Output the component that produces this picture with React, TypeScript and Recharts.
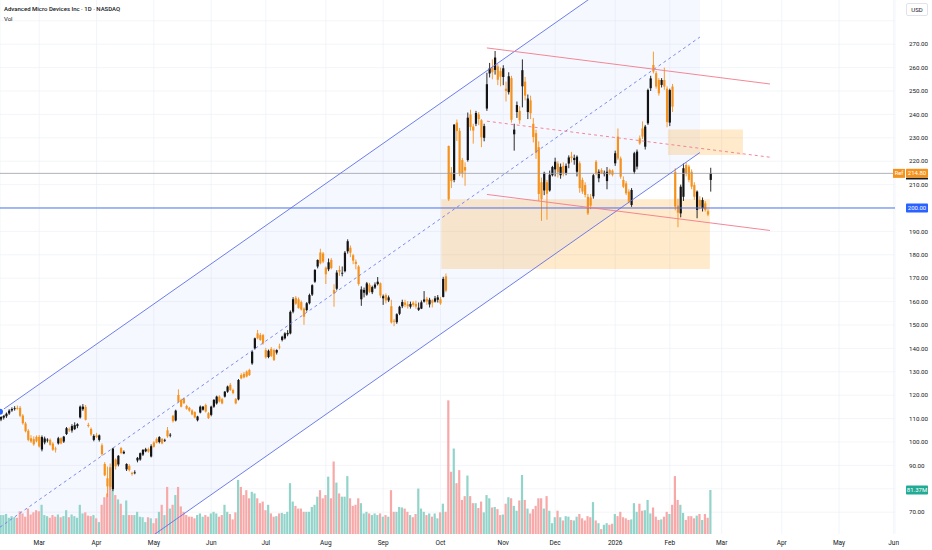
import React from 'react';
import { ComposedChart, Bar, Area, XAxis, YAxis, CartesianGrid, ReferenceLine, ReferenceArea } from 'recharts';

const W = 932;
const H = 550;
const UP = '#131313';
const DOWN = '#f5921e';
const VOL_UP = '#92d4ca';
const VOL_DOWN = '#f6a9a8';
const FONT = 'Roboto, "Liberation Sans", sans-serif';
const TXT = '#131722';

// ---- daily candles [open, high, low, close] ----
const FEB25 = [
  [109.6,111.4,108.9,110.9],[110.4,111.9,109.6,111.3],[111.0,112.6,110.3,112.1],[112.2,114.0,111.6,113.4],
  [113.5,114.8,112.9,114.1],[114.1,115.3,113.4,114.4],[114.5,115.6,113.8,114.2],[114.6,115.4,110.6,111.2],
  [111.3,111.9,107.4,108.0],[107.9,108.6,104.1,104.6],[104.8,105.5,100.3,100.9],[101.6,102.9,99.6,100.2],
  [101.2,102.4,98.4,99.0],[102.2,102.8,99.8,100.3],
];
const MAR25 = [
  [102.2,103.0,97.6,98.1],[96.8,102.8,96.0,102.1],[99.8,102.3,99.0,101.5],[100.8,101.6,99.8,101.0],
  [100.9,101.5,98.4,98.8],[99.3,99.9,96.2,96.7],[97.2,98.0,95.5,96.8],[99.4,102.2,98.9,101.6],
  [101.6,102.0,99.0,99.4],[100.2,102.6,99.6,102.3],[103.4,106.4,103.0,105.9],[105.4,106.2,104.3,105.0],
  [104.9,107.6,104.0,106.8],[105.5,108.4,105.1,107.2],[106.8,108.0,105.9,107.6],[110.5,115.6,110.0,115.1],
  [114.0,116.2,113.3,115.1],[115.0,115.8,109.2,109.5],[107.3,108.2,106.2,106.8],[105.6,106.2,102.6,103.2],
  [100.9,103.3,100.3,102.6],
];
const APR25 = [
  [102.8,103.9,101.7,102.1],[100.9,103.2,100.2,102.8],[98.6,99.4,94.0,94.8],[90.6,91.4,85.4,85.8],
  [84.5,89.5,76.5,81.0],[89.2,90.8,79.5,80.8],[79.8,97.5,79.0,97.2],[92.5,93.0,88.2,89.6],
  [90.4,94.4,89.6,94.1],[97.4,97.9,94.8,95.3],[95.1,96.4,94.8,95.8],[88.3,90.9,87.6,90.6],
  [89.8,90.5,87.4,88.0],[86.8,87.3,85.6,86.3],[86.9,87.9,86.2,87.0],[92.1,93.6,91.3,93.2],
  [92.5,95.5,92.0,95.2],[94.6,97.0,94.0,96.6],[96.0,97.5,95.6,96.9],[97.0,97.6,95.4,95.9],
  [93.8,99.0,93.4,98.2],
];
const MAY25 = [
  [99.8,100.4,97.6,97.9],[101.3,101.9,99.4,99.7],[100.0,102.5,99.4,102.1],[101.3,101.7,99.0,99.4],
  [100.6,101.4,100.0,100.9],[105.0,106.4,101.8,102.4],[102.8,103.8,102.0,103.1],[111.2,111.6,108.3,108.9],
  [109.2,113.8,108.8,113.4],[120.1,122.5,116.8,117.2],[118.0,118.5,114.8,115.1],[118.6,119.0,116.2,116.6],
  [115.4,115.9,113.8,114.2],[114.6,115.0,112.9,113.4],[113.5,114.0,111.4,111.8],[112.8,113.1,110.1,110.5],
  [109.3,111.2,108.8,110.9],[112.6,115.6,112.2,115.1],[113.8,115.4,113.4,115.1],[115.8,116.4,112.6,113.0],
  [112.3,112.8,109.8,110.2],
];
const JUN25 = [
  [111.6,115.5,111.0,115.1],[115.1,118.3,114.6,118.0],[116.5,119.8,116.0,119.4],[119.4,120.0,116.9,117.3],
  [118.3,118.9,116.1,116.5],[119.4,121.8,119.0,121.5],[121.5,124.1,121.0,123.7],[124.4,125.2,121.8,122.2],
  [122.2,122.8,120.4,120.9],[118.3,118.8,116.1,116.5],[118.2,126.9,117.8,126.5],[128.6,129.4,126.8,127.2],
  [129.1,129.9,127.2,127.6],[130.1,130.6,127.6,128.0],[130.8,131.3,128.2,128.6],[133.6,139.0,133.0,138.6],
  [140.0,144.6,139.5,144.3],[146.4,147.9,143.9,144.3],[145.7,146.6,143.2,143.6],[145.7,146.2,141.6,142.2],
];
const JUL25 = [
  [139.3,140.2,135.6,136.2],[136.3,139.5,135.8,139.0],[139.8,140.6,136.3,136.8],[139.3,139.9,134.6,135.0],
  [138.2,139.6,137.4,139.3],[140.8,142.0,139.6,140.4],[143.6,145.4,143.0,145.0],[144.3,146.9,143.8,146.4],
  [146.0,147.8,145.2,146.6],[146.4,156.2,146.0,155.6],[155.7,161.9,155.0,161.0],[161.6,162.4,158.6,159.1],
  [161.0,161.8,157.0,157.2],[159.8,160.5,156.2,156.6],[157.0,157.5,150.1,153.5],[156.4,159.8,155.8,159.3],
  [159.3,163.4,158.8,162.8],[163.0,167.4,162.4,167.0],[168.5,173.9,168.0,173.5],[175.0,178.0,174.2,177.8],
  [181.0,182.6,175.9,176.4],[180.6,181.2,176.4,177.1],
];
const AUG25 = [
  [174.5,175.0,167.5,171.7],[173.8,178.4,173.0,176.8],[177.8,178.6,173.8,174.3],[165.0,167.4,157.8,163.4],
  [165.5,173.4,164.8,172.4],[173.5,175.3,171.0,172.8],[172.0,175.0,170.8,172.3],[173.0,181.6,172.5,180.9],
  [181.5,186.6,180.5,185.8],[183.0,184.0,179.0,180.9],[179.8,180.4,176.0,177.5],[177.0,178.0,173.8,176.1],
  [175.0,175.6,166.8,167.5],[161.0,166.5,158.2,165.2],[163.8,166.0,161.8,165.0],[163.0,168.4,162.5,167.8],
  [167.2,168.0,163.7,164.2],[164.0,166.8,163.2,166.2],[166.0,168.2,165.4,167.3],[167.5,170.5,166.9,168.5],
  [167.8,168.2,161.6,162.6],
];
const SEP25 = [
  [161.4,163.0,158.6,162.3],[162.8,163.5,159.2,160.5],[160.5,162.6,159.8,161.8],[158.0,160.8,150.6,151.1],
  [151.8,152.6,149.5,151.4],[151.2,155.0,150.5,154.6],[154.8,158.2,154.2,157.8],[158.0,160.8,157.2,159.8],
  [159.6,160.8,157.6,158.6],[158.8,160.2,157.0,158.0],[157.8,160.0,157.0,159.0],[159.5,160.2,157.8,158.6],
  [159.0,160.4,157.0,157.9],[156.5,159.6,156.0,157.4],[157.0,160.5,156.8,159.7],[160.0,164.5,159.6,160.9],
  [161.2,162.0,158.6,160.0],[158.8,161.6,157.5,160.8],[160.5,161.0,157.5,159.5],[160.0,162.4,159.6,161.4],
  [160.8,162.8,159.6,161.8],
];
const OCT25 = [
  [161.0,162.0,158.6,159.2],[162.0,170.6,161.8,169.7],[170.8,172.0,164.0,164.7],[226.5,226.7,203.0,203.7],
  [215.2,217.5,208.5,211.5],[212.0,235.9,211.0,235.6],[236.5,237.8,228.6,232.9],[233.0,234.2,213.6,214.9],
  [220.5,221.4,213.0,214.8],[217.5,219.5,209.5,216.0],[220.5,240.8,219.8,238.6],[240.0,242.0,233.0,234.6],
  [234.8,236.0,227.5,233.1],[236.0,241.5,235.0,240.6],[240.0,241.0,235.4,238.0],[237.5,238.0,226.0,230.2],
  [230.0,236.0,228.5,235.0],[242.5,257.8,241.5,252.9],[257.5,262.0,255.8,259.7],[260.0,263.5,255.0,258.0],
  [259.0,267.1,257.0,264.3],[260.5,261.5,252.5,254.8],[258.5,260.0,252.0,256.1],
];
const NOV25 = [
  [256.0,261.0,252.5,259.7],[251.0,254.0,245.5,250.0],[249.5,258.0,248.5,256.3],[255.5,256.5,236.5,237.7],
  [231.5,236.0,224.5,233.5],[241.0,245.5,238.5,244.0],[241.5,243.5,236.0,237.5],[252.0,263.5,243.0,258.9],
  [254.0,256.0,246.0,248.0],[241.0,248.5,238.0,246.8],[246.0,248.0,238.0,240.5],[236.0,238.5,228.0,230.3],
  [232.0,233.5,221.0,223.6],[226.0,228.5,203.0,206.0],[211.0,213.0,194.5,203.8],[207.5,215.5,205.5,215.0],
  [211.0,212.0,195.0,206.1],[207.5,216.0,207.0,214.2],[214.0,218.0,213.5,217.5],
];
const DEC25 = [
  [216.5,221.5,213.5,219.8],[219.0,220.0,213.0,215.2],[214.0,219.0,212.5,217.6],[218.0,219.5,213.5,215.0],
  [215.0,219.0,214.0,218.0],[219.0,222.5,217.0,221.6],[222.0,224.0,219.5,221.4],[220.5,222.8,218.5,221.4],
  [215.5,222.5,213.5,221.9],[219.1,220.0,206.5,208.5],[212.0,213.0,206.0,207.0],[209.8,211.0,204.5,205.6],
  [204.8,206.0,197.0,197.7],[204.5,206.0,199.5,201.0],[205.0,214.5,204.0,214.0],[219.8,220.5,214.0,214.8],
  [212.7,216.5,211.0,215.5],[216.2,217.0,214.5,214.8],[214.5,216.0,213.5,215.0],[211.5,217.5,208.0,215.5],
  [216.2,216.8,214.0,214.8],[216.0,216.5,213.5,214.2],
];
const JAN26 = [
  [219.1,224.5,218.0,223.4],[230.5,234.0,220.5,221.2],[221.2,222.0,212.5,213.4],[212.0,213.5,208.5,209.1],
  [210.5,211.5,205.5,206.3],[207.0,208.0,202.0,202.7],[201.3,208.5,200.5,207.7],[215.5,224.0,214.5,223.4],
  [217.7,225.0,216.5,224.1],[229.8,231.0,227.0,227.6],[234.0,237.0,229.5,230.5],[226.2,235.5,225.0,234.8],
  [236.2,251.0,235.5,250.4],[251.2,256.5,250.0,255.4],[261.1,266.8,257.5,258.3],[257.6,258.5,251.0,251.9],
  [254.7,255.5,248.0,249.0],[252.6,255.5,251.5,254.7],[254.7,260.0,250.5,251.9],[251.0,252.0,234.5,236.7],
];
const FEB26 = [
  [236.5,251.0,235.0,250.4],[251.9,253.0,241.0,243.3],[215.5,217.0,199.0,200.6],[201.0,204.0,191.8,198.0],
  [197.7,210.0,196.0,209.1],[204.8,219.0,203.0,217.0],[218.4,219.5,213.5,214.8],[217.7,218.5,211.0,212.0],
  [215.5,216.5,208.0,209.1],[209.8,211.0,203.5,204.8],[199.2,207.5,195.6,207.0],[203.4,205.0,199.5,200.6],
  [199.9,204.5,198.5,203.4],[202.0,203.0,198.5,199.2],[198.6,199.5,196.5,197.2],[212.0,217.2,207.0,214.8],
];

// ---- daily volume, millions ----
const VOL_FEB25 = [35,35,37,30,33,31,30,42,38,32,47,36,40,44];
const VOL_MAR25 = [42,54,35,33,30,35,32,36,31,33,44,31,36,33,30,54,38,40,34,33,35];
const VOL_APR25 = [29,22,54,68,75,87,81,72,64,56,35,62,35,35,35,41,32,31,22,31,29];
const VOL_MAY25 = [20,29,41,54,35,87,47,54,72,87,51,41,35,32,32,29,35,38,32,35,32];
const VOL_JUN25 = [38,41,38,32,35,54,41,37,27,40,100,87,72,81,66,78,75,66,57,60];
const VOL_JUL25 = [44,54,38,32,33,38,39,37,41,94,60,52,47,47,41,41,41,50,54,69,81,66];
const VOL_AUG25 = [72,106,66,134,95,75,69,69,107,66,52,54,66,57,38,41,38,35,38,35,38];
const VOL_SEP25 = [32,35,32,81,41,41,50,49,47,41,35,31,37,84,47,41,35,38,32,38,29];
const VOL_OCT25 = [40,56,41,247,115,158,94,118,63,70,108,70,57,57,48,60,40,72,66,49,50,46,35];
const VOL_NOV25 = [36,56,68,66,52,43,62,109,63,47,38,46,52,66,66,47,70,43,20];
const VOL_DEC25 = [31,43,31,25,33,32,26,25,32,37,29,25,33,31,59,25,20,9,17,20,17,19];
const VOL_JAN26 = [37,33,41,31,29,26,27,57,41,56,43,44,63,38,49,32,26,27,32,41];
const VOL_FEB26 = [37,54,107,63,54,39,26,33,33,29,34,37,26,37,30,81.37];

// ---- axes ----
const MONTH_TICKS = [14,35,56,77,97,119,140,161,184,203,225,245,264,286,307,327];
const MONTH_LABELS = ['Mar','Apr','May','Jun','Jul','Aug','Sep','Oct','Nov','Dec','2026','Feb','Mar','Apr','May','Jun'];
const PRICE_TICKS = [70,90,100,110,120,130,140,150,160,170,180,190,210,220,230,240,250,260,270];
const GRID_PRICES = [70,80,90,100,110,120,130,140,150,160,170,180,190,200,210,220,230,240,250,260,270,280];
const X_DOMAIN = [-0.366, 327.5];
const PRICE_DOMAIN = [60.68, 288.89];
const VOL_DOMAIN = [0, 987];

// ---- drawings (data coordinates) ----
const BLUE_X = [-0.37, 256.04];
const BLUE_UPPER = [112.95, 322.4];
const BLUE_LOWER = [14.3, 223.7];
const BLUE_MID = [63.6, 273.05];
const RED_X = [178.0, 281.7];
const RED_UPPER = [268.4, 253.0];
const RED_LOWER = [205.8, 190.4];
const RED_MID = [237.1, 221.7];
const BIG_BOX = { x: [161.3, 259.7], y: [173.9, 203.7] };
const SMALL_BOX = { x: [244.3, 271.8], y: [222.6, 233.6] };
const LEVEL_BLUE = 200;
const LEVEL_REF = 214.8;
const LAST_VOL = 81.37;

const OHLC = [...FEB25, ...MAR25, ...APR25, ...MAY25, ...JUN25, ...JUL25, ...AUG25, ...SEP25, ...OCT25, ...NOV25, ...DEC25, ...JAN26, ...FEB26];
const VOLUME = [...VOL_FEB25, ...VOL_MAR25, ...VOL_APR25, ...VOL_MAY25, ...VOL_JUN25, ...VOL_JUL25, ...VOL_AUG25, ...VOL_SEP25, ...VOL_OCT25, ...VOL_NOV25, ...VOL_DEC25, ...VOL_JAN26, ...VOL_FEB26];

const candles = OHLC.map((q, i) => ({ i, o: q[0], h: q[1], l: q[2], c: q[3], range: [q[2], q[1]], vol: VOLUME[i] ?? 0 }));

const channelFill = [
  { i: BLUE_X[0], band: [BLUE_LOWER[0], BLUE_UPPER[0]] },
  { i: BLUE_X[1], band: [BLUE_LOWER[1], BLUE_UPPER[1]] },
];

function CandleShape(props: any) {
  const { x, y, width, height, payload } = props;
  if (!payload || !isFinite(x) || !isFinite(y)) return null;
  const { o, h, l, c } = payload;
  const cx = x + width / 2;
  const k = h - l > 0 ? height / (h - l) : 0;
  const yO = y + (h - o) * k;
  const yC = y + (h - c) * k;
  const up = c >= o;
  const color = up ? UP : DOWN;
  const top = Math.min(yO, yC);
  const bh = Math.max(Math.abs(yC - yO), 0.8);
  return (
    <g>
      <line x1={cx} x2={cx} y1={y} y2={y + height} stroke={color} strokeWidth={0.9} />
      <rect x={cx - 1.1} y={top} width={2.2} height={bh} fill={color} />
    </g>
  );
}

function VolShape(props: any) {
  const { x, y, width, height, payload } = props;
  if (!payload || !isFinite(x) || !isFinite(y)) return null;
  const up = payload.c >= payload.o;
  const cx = x + width / 2;
  return <rect x={cx - 1.1} y={y} width={2.2} height={Math.max(height, 0)} fill={up ? VOL_UP : VOL_DOWN} />;
}

function MonthTick(props: any) {
  const { x, payload } = props;
  const idx = MONTH_TICKS.indexOf(payload.value);
  return (
    <text x={x} y={H - 5} textAnchor="middle" fontSize={6.5} fill={TXT} fontFamily={FONT}>
      {MONTH_LABELS[idx]}
    </text>
  );
}

function PriceTick(props: any) {
  const { y, payload } = props;
  return (
    <text x={W - 23} y={y + 2.2} textAnchor="start" fontSize={6.2} fill={TXT} fontFamily={FONT}>
      {Number(payload.value).toFixed(2)}
    </text>
  );
}

function Tag(props: any) {
  const { viewBox, text, bg, withRef, underline } = props;
  if (!viewBox) return null;
  const right = viewBox.x + viewBox.width;
  const yy = viewBox.y;
  const bx = right + 11;
  return (
    <g>
      {withRef && (
        <g>
          <rect x={right - 2} y={yy - 4.5} width={12} height={9} fill={bg} />
          <text x={right + 4} y={yy + 2.1} textAnchor="middle" fontSize={5.8} fill="#fff" fontFamily={FONT}>Ref</text>
        </g>
      )}
      <rect x={bx} y={yy - 4.5} width={22} height={9} fill={bg} rx={0.8} />
      <text x={bx + 11} y={yy + 2.1} textAnchor="middle" fontSize={6} fill="#fff" fontFamily={FONT}>{text}</text>
      {underline && <rect x={bx} y={yy + 4.5} width={22} height={1.6} fill="#131722" />}
    </g>
  );
}

export default function App() {
  return (
    <div style={{ position: 'absolute', left: 0, top: 0, width: W, height: H, background: '#fff', overflow: 'hidden' }}>
      <ComposedChart width={W} height={H} data={candles} margin={{ top: 0, right: 0, bottom: 0, left: 0 }}>
        <CartesianGrid xAxisId="x" yAxisId="p" stroke="#eef1f6" strokeWidth={0.7} horizontalValues={GRID_PRICES} />
        <XAxis xAxisId="x" dataKey="i" type="number" domain={X_DOMAIN} allowDataOverflow ticks={MONTH_TICKS}
          interval={0} axisLine={false} tickLine={false} height={16} tick={<MonthTick />} />
        <XAxis xAxisId="vx" dataKey="i" type="number" domain={X_DOMAIN} allowDataOverflow hide />
        <YAxis yAxisId="p" orientation="right" type="number" domain={PRICE_DOMAIN} allowDataOverflow ticks={PRICE_TICKS}
          interval={0} width={37} axisLine={false} tickLine={false} tick={<PriceTick />} />
        <YAxis yAxisId="vol" type="number" domain={VOL_DOMAIN} allowDataOverflow hide />

        <Area data={channelFill} dataKey="band" xAxisId="x" yAxisId="p" type="linear" stroke="none"
          fill="#2962ff" fillOpacity={0.045} isAnimationActive={false} />

        <ReferenceArea xAxisId="x" yAxisId="p" x1={BIG_BOX.x[0]} x2={BIG_BOX.x[1]} y1={BIG_BOX.y[0]} y2={BIG_BOX.y[1]}
          fill="#ff9800" fillOpacity={0.2} stroke="none" ifOverflow="hidden" />
        <ReferenceArea xAxisId="x" yAxisId="p" x1={SMALL_BOX.x[0]} x2={SMALL_BOX.x[1]} y1={SMALL_BOX.y[0]} y2={SMALL_BOX.y[1]}
          fill="#ff9800" fillOpacity={0.2} stroke="none" ifOverflow="hidden" />

        <Bar dataKey="vol" xAxisId="vx" yAxisId="vol" barSize={2} shape={<VolShape />} isAnimationActive={false} />

        <ReferenceLine xAxisId="x" yAxisId="p" y={LEVEL_REF} stroke="#9aa0aa" strokeWidth={0.8}
          label={<Tag text="214.80" bg="#f5921e" withRef underline />} />
        <ReferenceLine xAxisId="x" yAxisId="p" y={LEVEL_BLUE} stroke="#4f73ee" strokeWidth={1}
          label={<Tag text="200.00" bg="#2962ff" />} />
        <ReferenceLine xAxisId="vx" yAxisId="vol" y={LAST_VOL} stroke="none" strokeOpacity={0}
          label={<Tag text="81.37M" bg="#22ab94" />} />

        <ReferenceLine xAxisId="x" yAxisId="p" ifOverflow="hidden" stroke="#5d6fe6" strokeWidth={0.9}
          segment={[{ x: BLUE_X[0], y: BLUE_UPPER[0] }, { x: BLUE_X[1], y: BLUE_UPPER[1] }]} />
        <ReferenceLine xAxisId="x" yAxisId="p" ifOverflow="hidden" stroke="#5d6fe6" strokeWidth={0.9}
          segment={[{ x: BLUE_X[0], y: BLUE_LOWER[0] }, { x: BLUE_X[1], y: BLUE_LOWER[1] }]} />
        <ReferenceLine xAxisId="x" yAxisId="p" ifOverflow="hidden" stroke="#6f7fe8" strokeWidth={0.9} strokeDasharray="3 3"
          segment={[{ x: BLUE_X[0], y: BLUE_MID[0] }, { x: BLUE_X[1], y: BLUE_MID[1] }]} />
        <ReferenceLine xAxisId="x" yAxisId="p" ifOverflow="hidden" stroke="#f07a8a" strokeWidth={0.9}
          segment={[{ x: RED_X[0], y: RED_UPPER[0] }, { x: RED_X[1], y: RED_UPPER[1] }]} />
        <ReferenceLine xAxisId="x" yAxisId="p" ifOverflow="hidden" stroke="#f07a8a" strokeWidth={0.9}
          segment={[{ x: RED_X[0], y: RED_LOWER[0] }, { x: RED_X[1], y: RED_LOWER[1] }]} />
        <ReferenceLine xAxisId="x" yAxisId="p" ifOverflow="hidden" stroke="#f07a8a" strokeWidth={0.9} strokeDasharray="3 3"
          segment={[{ x: RED_X[0], y: RED_MID[0] }, { x: RED_X[1], y: RED_MID[1] }]} />

        <Bar dataKey="range" xAxisId="x" yAxisId="p" barSize={2} shape={<CandleShape />} isAnimationActive={false} />
      </ComposedChart>

      <div style={{ position: 'absolute', left: 4, top: 4, fontFamily: FONT, fontSize: 6.0, color: TXT, lineHeight: '10px', fontWeight: 500 }}>
        <div>Advanced Micro Devices Inc · 1D · NASDAQ</div>
        <div style={{ fontWeight: 400 }}>Vol</div>
      </div>
      <div style={{ position: 'absolute', left: 906, top: 3, width: 20, height: 11, border: '1px solid #e0e3eb', borderRadius: 2,
        background: '#fff', fontFamily: FONT, fontSize: 6, color: TXT, textAlign: 'center', lineHeight: '11px' }}>USD</div>
    </div>
  );
}
